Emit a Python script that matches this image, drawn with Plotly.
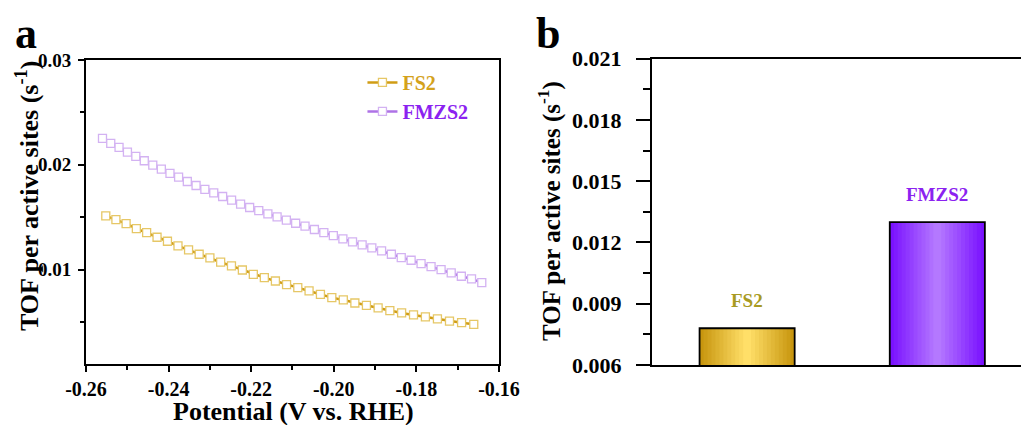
import plotly.graph_objects as go

# ---------------- data ----------------
fs2_x = [-0.25520, -0.25275, -0.25028, -0.24780, -0.24531, -0.24279, -0.24027, -0.23772,
         -0.23516, -0.23259, -0.22999, -0.22739, -0.22477, -0.22213, -0.21948, -0.21681,
         -0.21413, -0.21143, -0.20871, -0.20598, -0.20323, -0.20047, -0.19769, -0.19489,
         -0.19209, -0.18926, -0.18642, -0.18357, -0.18069, -0.17781, -0.17490, -0.17198,
         -0.16905, -0.16610]
fs2_y = [0.01513, 0.01478, 0.01440, 0.01392, 0.01354, 0.01309, 0.01271, 0.01227,
         0.01188, 0.01147, 0.01112, 0.01071, 0.01036, 0.00997, 0.00956, 0.00924,
         0.00892, 0.00857, 0.00829, 0.00797, 0.00765, 0.00733, 0.00711, 0.00682,
         0.00660, 0.00635, 0.00609, 0.00587, 0.00568, 0.00549, 0.00530, 0.00510,
         0.00494, 0.00479]
fmzs2_x = [-0.25600, -0.25400, -0.25199, -0.24996, -0.24793, -0.24588, -0.24382, -0.24175,
           -0.23966, -0.23757, -0.23546, -0.23334, -0.23121, -0.22906, -0.22691, -0.22474,
           -0.22256, -0.22037, -0.21816, -0.21595, -0.21372, -0.21148, -0.20923, -0.20696,
           -0.20469, -0.20240, -0.20010, -0.19779, -0.19546, -0.19313, -0.19078, -0.18842,
           -0.18605, -0.18366, -0.18127, -0.17886, -0.17644, -0.17401, -0.17156, -0.16911,
           -0.16664, -0.16416]
fmzs2_y = [0.02252, 0.02204, 0.02166, 0.02121, 0.02080, 0.02039, 0.01997, 0.01959,
           0.01918, 0.01883, 0.01841, 0.01803, 0.01765, 0.01733, 0.01698, 0.01663,
           0.01625, 0.01593, 0.01564, 0.01532, 0.01504, 0.01472, 0.01443, 0.01415,
           0.01383, 0.01354, 0.01325, 0.01294, 0.01265, 0.01236, 0.01208, 0.01179,
           0.01147, 0.01115, 0.01090, 0.01058, 0.01029, 0.01001, 0.00969, 0.00937,
           0.00912, 0.00876]

bar_categories = ["FS2", "FMZS2"]
bar_values = [0.0078, 0.0130]

a_xticks = [-0.26, -0.24, -0.22, -0.20, -0.18, -0.16]
a_xticklabels = ["-0.26", "-0.24", "-0.22", "-0.20", "-0.18", "-0.16"]
a_yticks = [0.01, 0.02, 0.03]
a_yticklabels = ["0.01", "0.02", "0.03"]
b_yticks = [0.006, 0.009, 0.012, 0.015, 0.018, 0.021]
b_yticklabels = ["0.006", "0.009", "0.012", "0.015", "0.018", "0.021"]

# ---------------- styles ----------------
FONT = "Liberation Serif, Times New Roman, serif"
FS2_LINE = "#D09C14"
FS2_MARK = "#E6C766"
FMZ_LINE = "#AE72E6"
FMZ_MARK = "#D3B2F2"
FS2_TEXT = "#D4A21C"
FMZ_TEXT = "#8B22F0"

fig = go.Figure()

fig.add_trace(go.Scatter(
    x=fs2_x, y=fs2_y, mode="lines+markers",
    name="<span style='color:%s'><b>FS2</b></span>" % FS2_TEXT,
    line=dict(color=FS2_LINE, width=2.5),
    marker=dict(symbol="square", size=8, color="white",
                line=dict(color=FS2_MARK, width=1.3)),
    xaxis="x", yaxis="y"))
fig.add_trace(go.Scatter(
    x=fmzs2_x, y=fmzs2_y, mode="lines+markers",
    name="<span style='color:%s'><b>FMZS2</b></span>" % FMZ_TEXT,
    line=dict(color=FMZ_LINE, width=2.5),
    marker=dict(symbol="square", size=8, color="white",
                line=dict(color=FMZ_MARK, width=1.3)),
    xaxis="x", yaxis="y"))


def mix(c1, c2, t):
    a = [int(c1[i:i + 2], 16) for i in (1, 3, 5)]
    b = [int(c2[i:i + 2], 16) for i in (1, 3, 5)]
    return "rgb(%d,%d,%d)" % tuple(round(a[k] + (b[k] - a[k]) * t) for k in range(3))


edge_cols = ["#C8960F", "#7A12FF"]
center_cols = ["#FFDF68", "#B478FF"]
N = 12
for i in range(N):
    t = i / (N - 1)
    w = 0.5 * (1 - i / N)
    fig.add_trace(go.Bar(
        x=bar_categories, y=bar_values, width=w,
        marker=dict(color=[mix(edge_cols[j], center_cols[j], t) for j in range(2)],
                    line=dict(width=0)),
        showlegend=False, xaxis="x2", yaxis="y2", hoverinfo="skip"))
# outline
fig.add_trace(go.Bar(
    x=bar_categories, y=bar_values, width=0.5,
    marker=dict(color="rgba(0,0,0,0)", line=dict(color="black", width=1.8)),
    showlegend=False, xaxis="x2", yaxis="y2"))

tickfont_ax = dict(family=FONT, size=20, color="black", weight="bold")
tickfont_ay = dict(family=FONT, size=19, color="black", weight="bold")
tickfont_b = dict(family=FONT, size=22, color="black", weight="bold")

fig.update_layout(
    template="none",
    width=1021, height=425, autosize=False,
    margin=dict(l=0, r=0, t=0, b=0, pad=0),
    paper_bgcolor="white", plot_bgcolor="white",
    barmode="overlay",
    showlegend=True,
    legend=dict(x=0.355, y=0.852, xanchor="left", yanchor="top",
                font=dict(family=FONT, size=20), bgcolor="rgba(0,0,0,0)",
                tracegroupgap=0, itemwidth=30),
    xaxis=dict(domain=[0.0842, 0.4887], range=[-0.26, -0.16], automargin=False,
               tickvals=a_xticks, ticktext=a_xticklabels, ticks="outside", ticklen=6,
               tickwidth=1.5, tickcolor="black",
               minor=dict(dtick=0.01, tick0=-0.26, ticks="outside", ticklen=4,
                          tickwidth=1.5, tickcolor="black", showgrid=False),
               showline=True, linecolor="black", linewidth=1.6, mirror=True,
               showgrid=False, zeroline=False, tickfont=tickfont_ax, anchor="y"),
    yaxis=dict(domain=[0.1435, 0.8588], range=[0.001, 0.03], automargin=False,
               tickvals=a_yticks, ticktext=a_yticklabels, ticks="outside", ticklen=6,
               tickwidth=1.5, tickcolor="black", ticklabelstandoff=3,
               minor=dict(tickvals=[0.005, 0.015, 0.025], ticks="outside", ticklen=4,
                          tickwidth=1.5, tickcolor="black", showgrid=False),
               showline=True, linecolor="black", linewidth=1.6, mirror=True,
               showgrid=False, zeroline=False, tickfont=tickfont_ay, anchor="x"),
    xaxis2=dict(domain=[0.6386, 1.0], range=[-0.5, 1.44], type="category",
                automargin=False, showticklabels=False, ticks="",
                showline=True, linecolor="black", linewidth=2, mirror=True,
                showgrid=False, zeroline=False, anchor="y2"),
    yaxis2=dict(domain=[0.1412, 0.8619], range=[0.006, 0.021], automargin=False,
                tickvals=b_yticks, ticktext=b_yticklabels, ticks="outside", ticklen=14,
                tickwidth=2, tickcolor="black", ticklabelstandoff=10,
                minor=dict(tickvals=[0.0075, 0.0105, 0.0135, 0.0165, 0.0195],
                           ticks="outside", ticklen=7, tickwidth=2, tickcolor="black",
                           showgrid=False),
                showline=True, linecolor="black", linewidth=2, mirror=False,
                showgrid=False, zeroline=False, tickfont=tickfont_b, anchor="x2"),
)

ann = []
def add_ann(text, x, y, size, angle=0):
    ann.append(dict(text=text, textangle=angle, x=x / 1021, y=1 - y / 425,
                    xref="paper", yref="paper", xanchor="center", yanchor="middle",
                    showarrow=False, font=dict(family=FONT, size=size, color="black")))

add_ann("<b>TOF per active sites (s<sup>-1</sup>)</b>", 27, 196, 26, -90)
add_ann("<b>Potential (V vs. RHE)</b>", 293, 411, 26)
add_ann("<b>TOF per active sites (s<sup>-1</sup>)</b>", 549, 211, 25, -90)
add_ann("<b>a</b>", 26, 34, 44)
add_ann("<b>b</b>", 548, 34, 44)

label_cols = ["#A89A22", "#8B22F0"]
for cat, val, col in zip(bar_categories, bar_values, label_cols):
    ann.append(dict(text="<b>%s</b>" % cat, x=cat, y=val, xref="x2", yref="y2",
                    xanchor="center", yanchor="bottom", yshift=15, showarrow=False,
                    font=dict(family=FONT, size=19, color=col)))
fig.update_layout(annotations=ann)

fig.write_html("out.html")
